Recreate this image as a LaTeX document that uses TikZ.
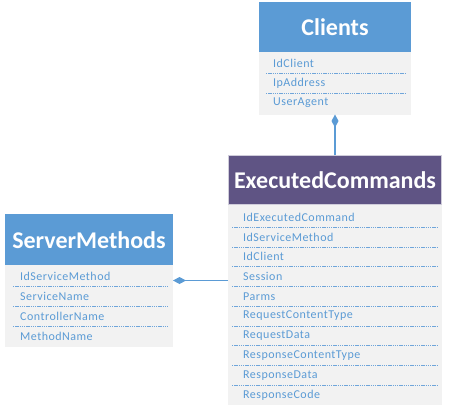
\documentclass[tikz,border=0pt]{standalone}
\usepackage{fontspec}
\setmainfont{Carlito}
\newfontfamily\rowfont[LetterSpace=4]{Carlito}
\usetikzlibrary{arrows.meta}
\definecolor{hblue}{HTML}{5B9BD5}
\definecolor{hpurple}{HTML}{5F5484}
\definecolor{bodyg}{HTML}{F2F2F2}
\definecolor{txtb}{HTML}{5B9BD5}
\definecolor{sepb}{HTML}{6FA5DA}
\tikzset{
  hdr/.style={inner sep=0pt, text=white, font=\fontsize{24}{26}\selectfont\bfseries},
  rowtxt/.style={anchor=west, inner sep=0pt, text=txtb, font=\rowfont\fontsize{12}{13}\selectfont},
  sep/.style={draw=sepb, line width=1pt, dash pattern=on 1.3pt off 0.9pt},
  conn/.style={draw=hblue, line width=1.2pt},
  dia/.style={-{Diamond[length=13pt,width=7pt]}}
}
\begin{document}
\begin{tikzpicture}[x=1pt,y=-1pt]
\useasboundingbox (0,0) rectangle (449,410);
% Clients
\fill[hblue] (259,2) rectangle (411,52);
\fill[bodyg] (259,52) rectangle (411,114.5);
\node[hdr] (clients) at (335,27) {Clients};
\node[rowtxt] (c1) at (273,63.5) {IdClient};
\node[rowtxt] (c2) at (273,83.5) {IpAddress};
\node[rowtxt] (c3) at (273,103) {UserAgent};
\draw[sep] (266,73.5) -- (405,73.5);
\draw[sep] (266,93.5) -- (405,93.5);
\coordinate (cbot) at (335,114.5);
% ExecutedCommands
\fill[bodyg] (228,205) rectangle (442,405);
\fill[hpurple] (228,155) rectangle (442,205);
\draw[draw=white!70!hpurple, line width=0.6pt] (228.3,155.3) rectangle (441.7,204.7);
\node[hdr] (exec) at (335,180) {ExecutedCommands};
\coordinate (etop) at (335,155);
\foreach \t [count=\i] in {IdExecutedCommand,IdServiceMethod,IdClient,Session,Parms,RequestContentType,RequestData,ResponseContentType,ResponseData,ResponseCode}{
  \node[rowtxt] (e\i) at (243,{197.5+19.75*\i}) {\t};
}
\foreach \i in {1,...,9}{
  \draw[sep] (232,{207.5+19.75*\i}) -- (437,{207.5+19.75*\i});
}
% ServerMethods
\fill[hblue] (5,214) rectangle (173,265);
\fill[bodyg] (5,265) rectangle (173,347);
\node[hdr] (server) at (89,240) {ServerMethods};
\node[rowtxt] (s1) at (20,276.5) {IdServiceMethod};
\node[rowtxt] (s2) at (20,296) {ServiceName};
\node[rowtxt] (s3) at (20,316) {ControllerName};
\node[rowtxt] (s4) at (20,336) {MethodName};
\draw[sep] (13,286.5) -- (168,286.5);
\draw[sep] (13,306.5) -- (168,306.5);
\draw[sep] (13,326.5) -- (168,326.5);
\coordinate (sright) at (173,280.5);
\coordinate (eleft) at (228,280.5);
% connectors
\draw[conn,dia] (etop) -- (cbot);
\draw[conn,dia] (eleft) -- (sright);
\end{tikzpicture}
\end{document}
